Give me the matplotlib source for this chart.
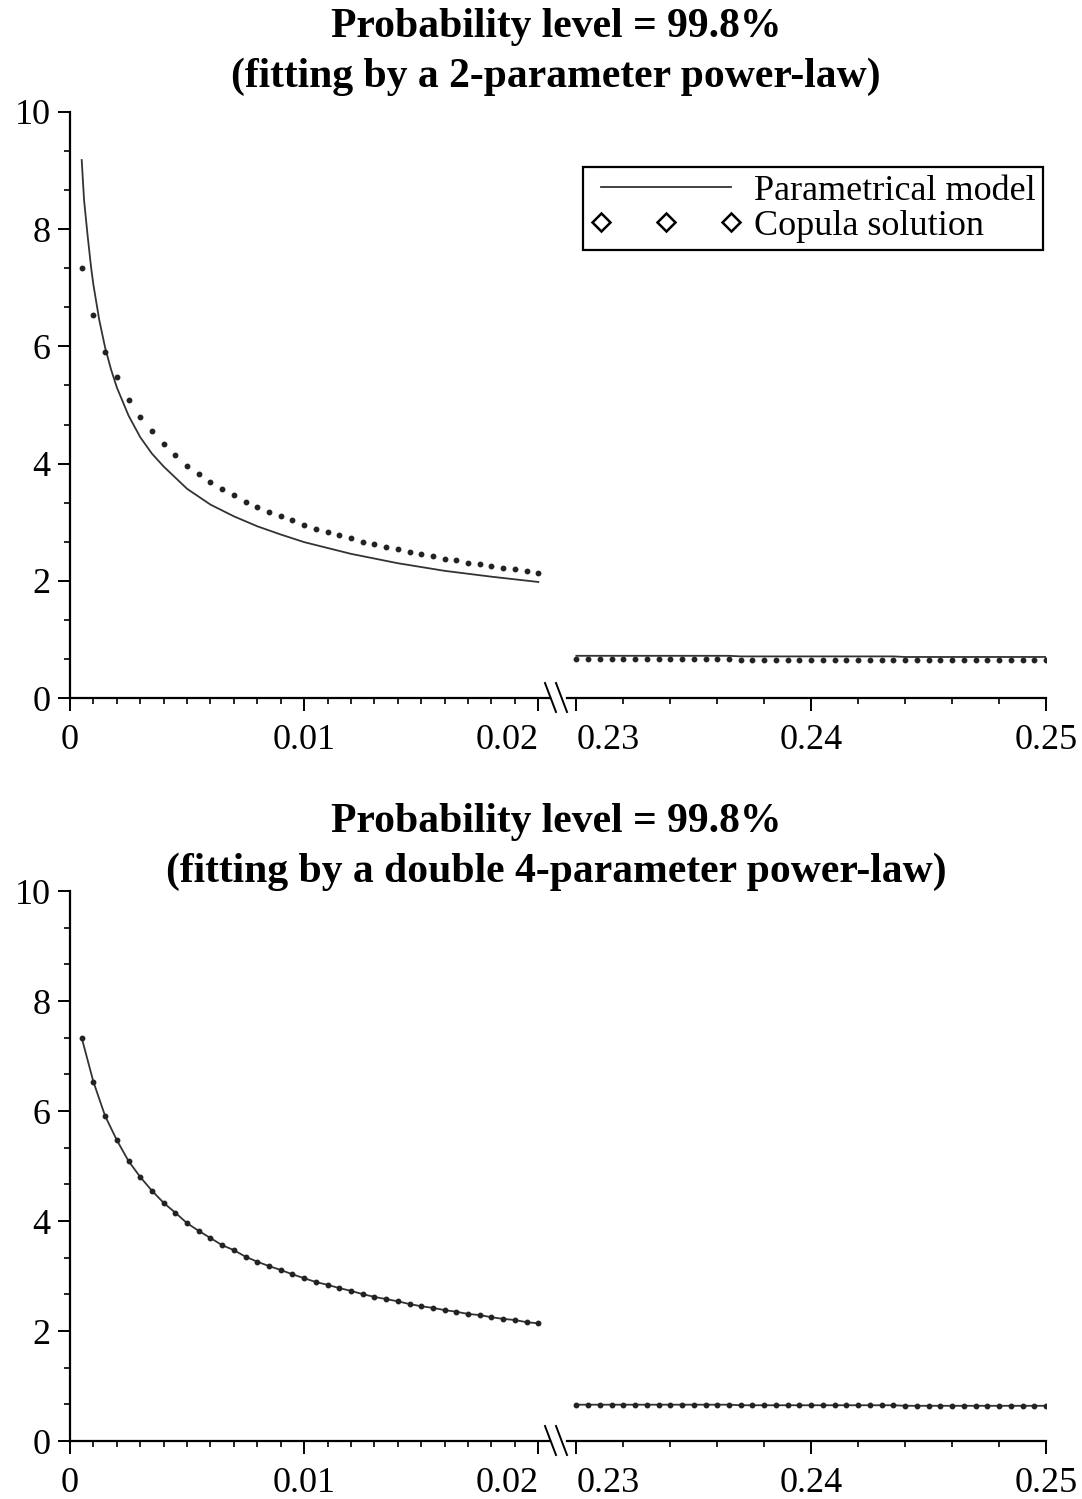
import numpy as np
import matplotlib
matplotlib.use("Agg")
import matplotlib.pyplot as plt
from matplotlib.lines import Line2D
from matplotlib.ticker import MultipleLocator

plt.rcParams['font.family'] = ['Liberation Serif', 'DejaVu Serif']

# Copula solution, left part of the axis (step 0.0005 from 0.0005 to 0.02)
x_left = np.arange(1, 41) * 0.0005
copula_left = [7.33, 6.53, 5.91, 5.47, 5.09, 4.80, 4.55, 4.33, 4.15, 3.96,
               3.82, 3.69, 3.56, 3.47, 3.35, 3.26, 3.18, 3.11, 3.03, 2.96,
               2.89, 2.84, 2.78, 2.73, 2.67, 2.62, 2.58, 2.54, 2.49, 2.45,
               2.42, 2.38, 2.35, 2.31, 2.29, 2.25, 2.22, 2.20, 2.16, 2.14]

# Copula solution, right part of the axis (step 0.0005 from 0.23 to 0.25)
x_right = 0.23 + np.arange(0, 41) * 0.0005
copula_right = [0.66] * 14 + [0.65] * 14 + [0.64] * 13

# 2-parameter power-law model (top panel)
model2_x = [0.0005, 0.0006, 0.00075, 0.0009, 0.001, 0.00125, 0.0015, 0.00175,
            0.002, 0.0025, 0.003, 0.0035, 0.004, 0.005, 0.006, 0.007, 0.008,
            0.009, 0.010, 0.012, 0.014, 0.016, 0.018, 0.020]
model2_y = [9.18, 8.50, 7.90, 7.35, 7.05, 6.45, 5.98, 5.61,
            5.30, 4.82, 4.45, 4.17, 3.95, 3.57, 3.30, 3.10, 2.93,
            2.79, 2.66, 2.46, 2.30, 2.17, 2.07, 1.98]
model2_right = [0.72] * 14 + [0.71] * 14 + [0.70] * 13

# double 4-parameter power-law model (bottom panel) follows the copula points
model4_left = copula_left
model4_right = copula_right

titles = [("Probability level = 99.8%", "(fitting by a 2-parameter power-law)"),
          ("Probability level = 99.8%", "(fitting by a double 4-parameter power-law)")]

W, H = 1082, 1499
fig = plt.figure(figsize=(W / 100, H / 100), dpi=100)


def px(x0, y_top, x1, y_bot):
    return [x0 / W, 1 - y_bot / H, (x1 - x0) / W, (y_bot - y_top) / H]


def style(ax, left):
    ax.set_ylim(0, 10)
    for s in ['top', 'right']:
        ax.spines[s].set_visible(False)
    ax.spines['bottom'].set_linewidth(1.6)
    ax.spines['left'].set_linewidth(1.6)
    ax.tick_params(which='major', direction='out', length=9, width=1.4,
                   labelsize=26, pad=5)
    ax.tick_params(axis='x', which='major', pad=10)
    ax.tick_params(which='minor', direction='out', length=4.5, width=1.2)
    if left:
        ax.set_xlim(0, 0.0205)
        ax.set_xticks([0, 0.01, 0.02])
        ax.set_xticklabels(['0', '0.01', '0.02'])
        ax.get_xticklabels()[2].set_ha('right')
        ax.xaxis.set_minor_locator(MultipleLocator(0.001))
        ax.set_yticks([0, 2, 4, 6, 8, 10])
        ax.yaxis.set_minor_locator(MultipleLocator(2 / 3))
    else:
        ax.set_xlim(0.2296, 0.25)
        ax.set_xticks([0.23, 0.24, 0.25])
        ax.set_xticklabels(['0.23', '0.24', '0.25'])
        ax.get_xticklabels()[0].set_ha('left')
        ax.xaxis.set_minor_locator(MultipleLocator(0.002))
        ax.spines['left'].set_visible(False)
        ax.set_yticks([])
        ax.yaxis.set_minor_locator(plt.NullLocator())


panels = [(112, 698, 27), (891, 1441, 822)]
for i, (ytop, ybot, ytitle) in enumerate(panels):
    axl = fig.add_axes(px(70, ytop, 550, ybot))
    axr = fig.add_axes(px(567, ytop, 1046, ybot))
    style(axl, True)
    style(axr, False)

    if i == 0:
        axl.plot(model2_x, model2_y, color='#333333', lw=1.3)
        axr.plot(x_right, model2_right, color='#333333', lw=1.3)
    else:
        axl.plot(x_left, model4_left, color='#333333', lw=1.3)
        axr.plot(x_right, model4_right, color='#333333', lw=1.3)
    axl.plot(x_left, copula_left, 'o', color='#222222', ms=3.2, ls='none')
    axr.plot(x_right, copula_right, 'o', color='#222222', ms=3.2, ls='none')

    # break marks on the x axis
    for dx in (0, 11):
        fig.add_artist(Line2D([(545 + dx) / W, (556 + dx) / W],
                              [1 - (ybot - 15) / H, 1 - (ybot + 14) / H],
                              color='black', lw=1.4))

    for k, line in enumerate(titles[i]):
        fig.text(556 / W, 1 - (ytitle + 50 * k) / H, line, ha='center',
                 va='center', fontsize=30, fontweight='bold')

    if i == 0:
        handles = [Line2D([], [], color='#333333', lw=1.3),
                   Line2D([], [], marker='D', mfc='white', mec='black',
                          mew=1.8, ms=9, ls='none')]
        leg = fig.legend(handles, ['Parametrical model', 'Copula solution'],
                         loc='upper right',
                         bbox_to_anchor=(1043 / W, 1 - 167 / H),
                         bbox_transform=fig.transFigure, borderaxespad=0,
                         fontsize=26, numpoints=3, handlelength=4.2,
                         handletextpad=0.35, labelspacing=0.05,
                         borderpad=0.2, fancybox=False, edgecolor='black',
                         framealpha=1)
        leg.get_frame().set_linewidth(1.6)

fig.savefig('out.png', dpi=100)
